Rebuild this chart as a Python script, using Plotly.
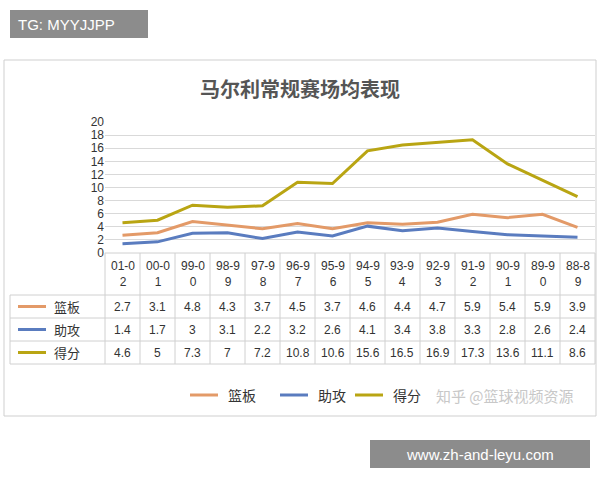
import plotly.graph_objects as go

seasons = ["01-02","00-01","99-00","98-99","97-98","96-97","95-96","94-95","93-94","92-93","91-92","90-91","89-90","88-89"]
rebounds = [2.7,3.1,4.8,4.3,3.7,4.5,3.7,4.6,4.4,4.7,5.9,5.4,5.9,3.9]
assists = [1.4,1.7,3,3.1,2.2,3.2,2.6,4.1,3.4,3.8,3.3,2.8,2.6,2.4]
points = [4.6,5,7.3,7,7.2,10.8,10.6,15.6,16.5,16.9,17.3,13.6,11.1,8.6]
series = [("篮板", rebounds, "#E39A68"), ("助攻", assists, "#5A7CBF"), ("得分", points, "#B9A513")]
y_ticks = list(range(0, 21, 2))

W, H = 600, 480
def px(x): return x / W
def py(y): return 1 - y / H

x0, x1 = 105, 595
fig = go.Figure()
for name, vals, col in series:
    fig.add_trace(go.Scatter(x=list(range(len(seasons))), y=vals, mode="lines", line=dict(color=col, width=3), name=name, showlegend=False, cliponaxis=False))

shapes, ann = [], []
LAT = "Liberation Sans"
CJK = "Noto Sans CJK SC"
def text(x, y, t, fam, size, color="#333", anchor="center"):
    ann.append(dict(x=px(x), y=py(y), xref="paper", yref="paper", text=t, showarrow=False, xanchor=anchor, yanchor="middle",
                    font=dict(family=fam, size=size, color=color)))

shapes.append(dict(type="rect", xref="paper", yref="paper", x0=px(4), x1=px(596), y0=py(60), y1=py(416), line=dict(color="#cfcfcf", width=1)))
rows = [253, 295, 318, 341, 364]
for r in rows:
    shapes.append(dict(type="line", xref="paper", yref="paper", x0=px(10 if r != 253 else x0), x1=px(x1), y0=py(r), y1=py(r), line=dict(color="#d0d0d0", width=1)))
cw = (x1 - x0) / len(seasons)
for i in range(len(seasons) + 1):
    xx = x0 + i * cw
    shapes.append(dict(type="line", xref="paper", yref="paper", x0=px(xx), x1=px(xx), y0=py(253), y1=py(364), line=dict(color="#d0d0d0", width=1)))
shapes.append(dict(type="line", xref="paper", yref="paper", x0=px(10), x1=px(10), y0=py(295), y1=py(364), line=dict(color="#d0d0d0", width=1)))
for i, s in enumerate(seasons):
    cx = x0 + (i + 0.5) * cw
    text(cx, 274, s[:4] + "<br>" + s[4:], LAT, 12)
    for j, (name, vals, col) in enumerate(series):
        text(cx, (rows[j+1] + rows[j+2]) / 2, str(vals[i]), LAT, 12)
for j, (name, vals, col) in enumerate(series):
    yc = (rows[j+1] + rows[j+2]) / 2
    shapes.append(dict(type="line", xref="paper", yref="paper", x0=px(18), x1=px(46), y0=py(yc), y1=py(yc), line=dict(color=col, width=3)))
    text(52, yc, name, CJK, 13, anchor="left")
for (name, vals, col), lx in zip(series, [190, 280, 355]):
    shapes.append(dict(type="line", xref="paper", yref="paper", x0=px(lx), x1=px(lx + 28), y0=py(395), y1=py(395), line=dict(color=col, width=3)))
    text(lx + 36, 395, name, CJK, 14, anchor="left")
text(505, 395, "知乎 @篮球视频资源", CJK, 15, "#c8c8c8")
text(300, 88, "<b>马尔利常规赛场均表现</b>", CJK, 20, "#555")
shapes.append(dict(type="rect", xref="paper", yref="paper", x0=px(10), x1=px(148), y0=py(10), y1=py(38), fillcolor="#8c8c8c", line=dict(width=0)))
text(16, 24, "TG: MYYJJPP", LAT, 15, "white", "left")
shapes.append(dict(type="rect", xref="paper", yref="paper", x0=px(370), x1=px(590), y0=py(440), y1=py(468), fillcolor="#8c8c8c", line=dict(width=0)))
text(480, 454, "www.zh-and-leyu.com", LAT, 15, "white")

fig.update_layout(
    width=W, height=H, margin=dict(l=0, r=0, t=0, b=0, pad=0), autosize=False,
    paper_bgcolor="white", plot_bgcolor="white",
    xaxis=dict(domain=[px(x0), px(x1)], showticklabels=False, showgrid=False, zeroline=False, range=[-0.5, len(seasons) - 0.5], automargin=False),
    yaxis=dict(domain=[py(253), py(122)], range=[0, 20], tickvals=y_ticks, gridcolor="#d9d9d9", zeroline=False, automargin=False,
               tickfont=dict(family=LAT, size=12, color="#333"), ticks="", showline=False),
    shapes=shapes, annotations=ann,
)
fig.write_html("out.html", config={"responsive": False, "displayModeBar": False}, post_script="document.body.style.margin='0';")
